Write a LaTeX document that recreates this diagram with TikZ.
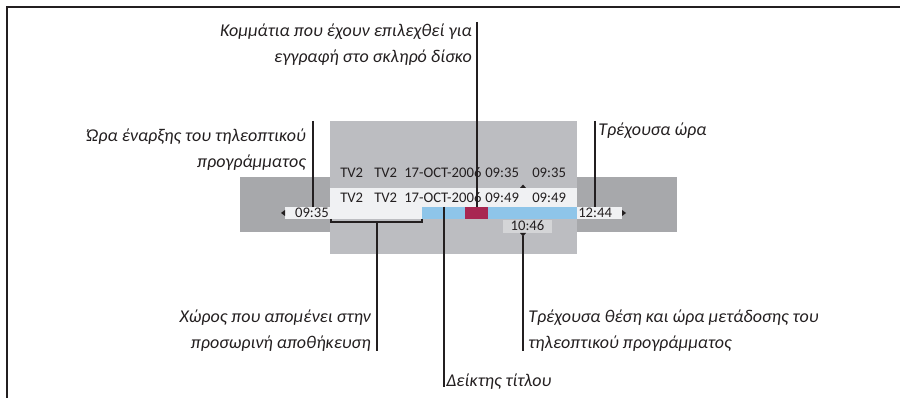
\documentclass[tikz,border=0pt]{standalone}
\usepackage{fontspec}
\setmainfont{Carlito}
\usetikzlibrary{calc,shapes}
\definecolor{grisclair}{HTML}{BCBDC1}
\definecolor{grisfonce}{HTML}{A7A8AB}
\definecolor{blanc}{HTML}{F0F1F3}
\definecolor{bleu}{HTML}{8EC5E9}
\definecolor{rouge}{HTML}{A82752}
\definecolor{grisbulle}{HTML}{D4D5D7}
\definecolor{encre}{HTML}{231F20}
\newcommand{\px}{0.75pt}
\tikzstyle{case}=[rectangle, draw=none, inner sep=0pt, outer sep=0pt, anchor=north west]
\tikzstyle{legende}=[inner sep=0pt, text=encre, font=\itshape\fontsize{13.5}{19.5}\selectfont]
\tikzstyle{champ}=[inner sep=0pt, text=encre, font=\fontsize{11}{12}\selectfont]
\tikzstyle{trait}=[draw=encre, line width=0.8pt]
\newcommand{\boite}[6]{\node[case, fill=#6, minimum width=#4*\px, minimum height=#5*\px] (#1) at (#2,#3) {};}
\newcommand{\lien}[2]{\draw[trait] (#1) -- (#2);}

\begin{document}
\begin{tikzpicture}[x=\px, y=-\px]
 \useasboundingbox (0,0) rectangle (900,398);

 % cadre
 \draw[encre, line width=1.5pt] (900,7) -- (7,7) -- (7,398);

 % fonds de l'ecran
 \boite{bande}{240}{177}{437}{55}{grisfonce}
 \boite{ecran}{330}{121}{247}{133}{grisclair}
 \boite{ligne}{330}{188}{247}{19}{blanc}
 \boite{tampon}{285}{207}{137}{12}{blanc}
 \boite{barre}{422}{207}{155}{12}{bleu}
 \boite{rouge}{465}{207}{23}{12}{rouge}
 \boite{fin}{577}{207}{45}{12}{blanc}
 \boite{bulle}{503}{220}{49}{13}{grisbulle}

 % champs des deux lignes
 \foreach \x/\t/\b in {340/TV2/TV2, 374/TV2/TV2, 404/17-OCT-2006/17-OCT-2006, 485/09:35/09:49, 532/09:35/09:49}{
     \node[champ, anchor=base west] (h\x) at (\x,178) {\t};
     \node[champ, anchor=base west] (b\x) at (\x,203) {\b};
 }
 \node[champ, anchor=base east] (t0935) at (329,218) {09:35};
 \node[champ, anchor=base west] (t1244) at (578,218) {12:44};
 \node[champ, anchor=base] (t1046) at (527.5,231) {10:46};

 % petits triangles
 \fill[encre] (285,210) -- (281,213) -- (285,216) -- cycle;
 \fill[encre] (622,210) -- (626,213) -- (622,216) -- cycle;
 \fill[encre] (520,188) -- (523,184.5) -- (526,188) -- cycle;
 \fill[encre] (520,233) -- (526,233) -- (523,236.5) -- cycle;

 % crochet sous le tampon
 \draw[trait] (331,219) -- (331,222) -- (422,222) -- (422,219);

 % legendes
 \node[legende, anchor=east, align=right] (kom) at (472,45) {Κομμάτια που έχουν επιλεχθεί για\\εγγραφή στο σκληρό δίσκο};
 \node[legende, anchor=east, align=right] (debut) at (306,150) {Ώρα έναρξης του τηλεοπτικού\\προγράμματος};
 \node[legende, anchor=west] (courante) at (598,131) {Τρέχουσα ώρα};
 \node[legende, anchor=east, align=right] (espace) at (371,331) {Χώρος που απομένει στην\\προσωρινή αποθήκευση};
 \node[legende, anchor=west, align=left] (position) at (528,331) {Τρέχουσα θέση και ώρα μετάδοσης του\\τηλεοπτικού προγράμματος};
 \node[legende, anchor=west] (titre) at (446,382) {Δείκτης τίτλου};

 % traits de rappel
 \coordinate (kom-h) at (477,22);
 \coordinate (debut-h) at (313,121);
 \coordinate (courante-h) at (595,121);
 \coordinate (crochet) at (377,222);
 \coordinate (espace-b) at (377,351);
 \coordinate (index) at (444,207);
 \coordinate (titre-b) at (444,387);
 \coordinate (curseur) at (523,236);
 \coordinate (position-b) at (523,351);
 \lien{kom-h}{kom-h |- rouge.north}
 \lien{debut-h}{debut-h |- tampon.north}
 \lien{courante-h}{courante-h |- fin.north}
 \lien{crochet}{espace-b}
 \lien{index}{titre-b}
 \draw[encre, line width=1.6pt] (index) -- (index |- barre.south);
 \lien{curseur}{position-b}

\end{tikzpicture}
\end{document}
